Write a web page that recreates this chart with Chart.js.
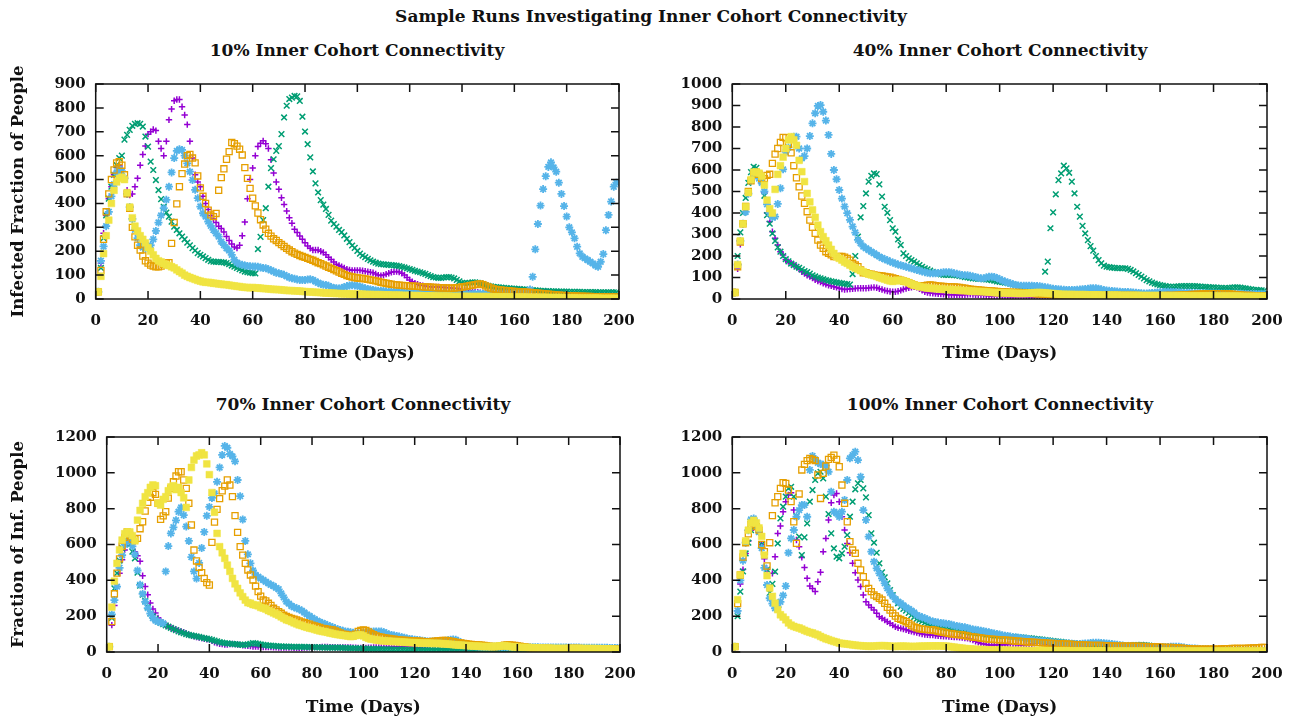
<!DOCTYPE html>
<html><head><meta charset="utf-8">
<script src="https://cdn.jsdelivr.net/npm/chart.js@4.4.1/dist/chart.umd.min.js"></script>
<style>
html,body{margin:0;padding:0;background:#fff;}
#wrap{position:relative;width:1303px;height:719px;overflow:hidden;background:#fff;}
canvas{position:absolute;}
.t{position:absolute;font:bold 17px 'DejaVu Serif',serif;color:#111;white-space:nowrap;transform:translate(-50%,-50%);}
</style></head><body>
<div id="wrap">
<div class="t" style="left:651px;top:16px">Sample Runs Investigating Inner Cohort Connectivity</div>
<div class="t" style="left:357px;top:50px">10% Inner Cohort Connectivity</div>
<div class="t" style="left:1000px;top:50px">40% Inner Cohort Connectivity</div>
<div class="t" style="left:363px;top:404px">70% Inner Cohort Connectivity</div>
<div class="t" style="left:1000px;top:404px">100% Inner Cohort Connectivity</div>
<canvas id="c1" width="650" height="310" style="left:0;top:60px"></canvas>
<canvas id="c2" width="653" height="310" style="left:650px;top:60px"></canvas>
<canvas id="c3" width="650" height="319" style="left:0;top:400px"></canvas>
<canvas id="c4" width="653" height="319" style="left:650px;top:400px"></canvas>
</div>
<script>
// ---------- 10% Inner Cohort Connectivity (values per day, day 0..199) ----------
const p10_purple = [30,30,150,275,350,420,470,520,550,560,
545,500,455,435,440,470,505,560,605,640,
690,700,710,705,660,630,600,660,750,795,
830,835,835,805,770,730,660,590,520,490,
470,430,400,375,350,335,320,305,295,280,
262,245,230,218,213,225,265,322,420,500,
548,600,638,652,662,650,630,583,527,490,
459,424,396,368,340,317,292,278,264,250,
235,222,212,205,205,205,200,195,185,175,
165,155,145,140,135,130,125,122,120,120,
120,120,118,116,114,112,110,105,100,98,
100,104,108,112,114,115,113,108,100,90,
80,72,66,62,58,56,54,52,51,50,
50,50,49,48,48,47,46,45,44,42,
40,38,36,34,32,30,28,26,25,24,
24,25,27,29,31,33,35,37,38,39,
40,40,39,38,37,36,35,34,33,32,
31,30,29,28,27,26,25,24,23,22,
21,20,20,19,19,18,18,17,17,16,
16,15,15,15,14,14,14,13,13,13];
const p10_green = [30,30,130,255,350,420,470,520,560,590,
600,667,687,708,725,733,736,733,722,680,
638,575,540,498,456,418,386,362,345,324,
303,289,275,261,250,236,225,213,203,192,
185,178,171,164,158,156,155,155,154,153,
150,146,140,135,130,125,120,115,112,110,
108,107,209,260,330,380,470,548,585,620,
640,690,760,809,837,843,850,848,829,763,
701,648,593,534,484,446,414,395,377,352,
328,314,303,289,280,266,252,238,224,214,
201,190,182,175,168,162,156,152,148,146,
145,144,143,142,141,140,138,135,132,128,
125,122,118,115,112,108,105,100,96,92,
90,88,88,90,92,92,90,86,80,74,
68,66,66,68,70,70,68,65,62,58,
55,53,51,50,49,48,47,46,45,44,
43,42,41,40,40,39,38,37,36,35,
34,34,33,33,32,32,32,31,31,31,
31,30,30,30,30,30,29,29,29,29,
29,29,28,28,28,28,28,28,28,28];
const p10_blue = [30,30,160,220,305,365,430,480,530,545,
535,505,440,385,335,290,255,225,215,210,
215,225,250,285,320,350,380,415,470,530,
590,620,627,624,600,568,533,498,457,422,
387,359,345,324,306,289,275,261,240,226,
212,203,185,164,152,145,143,140,138,137,
136,136,135,132,130,129,125,120,115,110,
108,105,101,95,90,87,85,82,80,80,
80,82,83,80,73,68,63,60,59,55,
50,46,45,44,46,50,54,57,58,57,
55,52,48,45,42,40,38,36,35,34,
33,32,31,30,30,29,29,28,28,27,
27,27,26,26,26,25,25,25,25,24,
24,24,24,24,23,23,23,23,23,23,
22,22,22,22,22,22,22,22,22,22,
22,22,22,23,23,23,24,24,25,25,
26,26,27,27,28,30,40,93,208,314,
391,460,514,553,572,551,533,487,440,389,
345,300,279,254,219,191,177,170,163,156,
149,140,135,156,188,288,352,408,470,487];
const p10_orange = [30,30,120,250,365,440,500,540,570,575,
560,520,440,380,300,260,225,205,180,160,
150,142,138,135,135,138,145,150,152,233,
320,398,470,525,565,600,605,590,570,515,
465,430,400,372,352,345,358,455,508,545,
585,617,655,650,640,627,603,550,505,463,
422,390,360,332,310,292,275,263,252,245,
236,228,220,212,205,198,192,187,182,178,
174,170,166,162,157,152,148,143,138,133,
128,123,118,113,108,103,98,95,92,90,
88,87,86,84,82,80,78,76,73,70,
68,66,64,62,60,59,58,57,56,56,
55,54,54,53,52,51,50,50,49,48,
48,47,47,46,46,45,45,46,47,48,
50,52,54,56,58,60,62,63,60,55,
50,46,42,40,38,37,36,35,34,33,
32,31,30,30,29,28,27,26,25,24,
23,22,21,20,19,18,17,16,15,15,
14,14,13,13,12,12,12,11,11,11,
10,10,10,10,10,10,9,9,9,9];
const p10_yellow = [30,30,95,190,265,330,400,455,490,505,
510,500,445,385,340,305,285,265,250,235,
215,200,185,170,160,155,148,143,140,135,
130,122,115,108,100,95,90,86,82,78,
75,72,70,70,68,66,65,63,62,60,
60,58,56,55,53,52,50,49,48,47,
48,47,46,45,44,43,42,41,40,40,
39,38,37,36,35,35,34,34,33,32,
31,30,30,29,28,28,27,26,25,25,
24,24,23,23,22,22,22,21,21,20,
20,20,20,19,19,19,18,18,18,18,
17,17,17,16,16,16,16,15,15,15,
15,14,14,14,14,13,13,13,13,13,
12,12,12,12,12,12,11,11,11,11,
11,11,11,10,10,10,10,10,10,10,
10,9,9,9,9,9,9,9,9,8,
8,8,8,8,8,8,7,7,7,7,
7,7,7,6,6,6,6,6,6,5,
5,5,5,5,5,4,4,4,4,4,
4,4,4,3,3,3,3,3,3,3];

// ---------- 40% Inner Cohort Connectivity ----------
const p40_purple = [30,30,140,255,350,430,490,555,580,590,
570,540,494,400,360,313,282,251,220,205,
182,174,166,160,150,140,127,118,110,104,
97,89,84,79,73,68,64,61,57,54,
50,46,44,45,46,48,49,50,50,50,
50,51,53,54,52,48,44,40,37,35,
34,34,36,40,45,49,52,55,57,54,
48,40,33,30,28,27,25,24,23,22,
21,20,20,20,19,19,19,20,21,22,
21,20,19,18,17,16,15,14,14,13,
13,12,12,12,11,11,11,11,11,10,
10,10,10,9,9,9,9,8,8,8,
8,7,7,7,6,6,6,5,5,5,
5,4,4,3,3,3];
const p40_green = [30,30,200,310,400,470,540,590,615,610,
580,545,480,390,350,305,270,240,220,200,
185,175,165,158,150,145,138,130,125,118,
110,105,100,96,92,88,85,82,80,77,
75,73,71,69,67,116,200,290,380,432,
491,546,573,584,581,533,476,429,401,367,
329,313,277,251,212,200,189,181,174,166,
158,150,143,138,132,126,122,118,115,112,
112,112,112,111,110,108,105,102,100,98,
96,95,94,93,92,91,90,88,85,82,
80,78,76,74,71,68,65,62,59,56,
53,50,48,46,45,44,44,127,174,329,
403,487,553,584,620,608,587,546,491,429,
383,340,305,274,246,225,200,181,166,155,
150,148,146,145,144,143,143,143,140,135,
128,120,112,104,96,88,82,76,72,68,
65,62,60,58,57,57,58,59,60,60,
60,60,60,60,59,58,57,56,55,54,
54,53,52,52,51,51,52,53,54,54,
53,51,49,47,45,43,42,41,40,39];
const p40_blue = [30,30,160,270,350,405,490,550,580,580,
560,540,500,440,400,380,383,442,515,603,
685,705,743,755,755,700,654,665,700,758,
817,864,898,902,871,830,763,675,600,557,
507,467,430,399,368,337,309,275,259,244,
236,228,220,213,205,197,191,185,180,174,
170,165,160,157,154,150,146,143,139,135,
132,128,125,122,120,120,120,121,122,124,
125,125,123,120,117,114,112,111,110,108,
105,102,99,96,96,100,104,104,102,98,
92,86,81,77,73,69,65,63,62,62,
62,62,62,61,60,59,57,55,53,50,
48,46,45,44,43,42,42,42,42,43,
44,45,46,48,50,50,50,48,45,42,
39,38,37,36,35,34,33,33,32,31,
30,29,28,27,26,26,27,28,29,30,
31,32,33,34,34,33,32,31,30,29,
29,29,28,28,27,27,27,26,26,26,
26,26,26,25,25,25,25,24,24,24,
24,23,23,23,23,23,23,22,22,22];
const p40_orange = [30,30,150,265,350,430,500,550,580,590,
580,560,560,575,580,631,674,700,728,752,
750,720,680,620,564,522,479,445,406,367,
333,305,274,251,236,220,212,205,197,197,
198,198,195,189,181,166,158,150,135,122,
122,118,115,112,110,108,107,105,103,101,
98,95,91,88,84,81,76,70,65,62,
60,60,62,64,65,64,62,60,59,58,
57,57,56,56,55,54,52,50,48,46,
44,43,42,41,40,39,38,37,36,35,
34,33,33,32,32,31,30,30,29,29,
28,27,26,25,24,24,23,23,22,21,
20,20,20,19,19,19,19,18,18,18,
18,18,18,18,18,18,17,17,17,17,
17,17,17,17,17,17,17,16,16,16,
16,16,15,15,15,15,15,15,15,15,
15,15,16,16,17,17,18,18,19,19,
20,20,21,21,22,22,23,23,24,24,
25,25,25,25,24,24,23,22,21,20,
19,18,17,16,16,15,15,15,14,14];
const p40_yellow = [30,30,160,270,350,430,495,555,590,590,
585,570,530,460,420,400,510,580,620,660,
700,740,755,740,715,645,592,546,491,452,
414,380,344,313,290,271,251,231,212,197,
189,181,172,166,158,150,144,138,132,127,
120,116,112,109,105,100,96,92,88,84,
82,84,88,86,84,81,76,70,65,62,
58,55,53,51,50,49,48,47,46,45,
45,44,43,42,41,40,39,39,38,37,
36,35,35,34,34,33,32,31,30,29,
29,28,28,27,27,27,26,26,26,26,
26,27,28,29,30,30,29,28,27,26,
25,24,23,22,22,21,21,21,20,20,
20,20,20,19,19,19,19,19,18,18,
18,18,18,18,18,17,17,17,17,17,
17,17,17,16,16,16,16,16,16,16,
16,16,15,15,15,15,15,15,15,15,
15,14,14,14,14,14,14,14,14,14,
14,13,13,13,13,13,13,13,13,13,
13,12,12,12,12,12,12,12,12,12];

// ---------- 70% Inner Cohort Connectivity ----------
const p70_purple = [30,30,150,260,365,440,515,570,610,620,
600,560,537,506,426,366,320,273,240,218,
190,176,162,152,143,137,130,125,120,115,
110,104,97,92,88,84,81,78,74,71,
69,62,54,50,46,44,41,42,44,45,
44,42,40,38,36,35,33,31,30,30,
29,28,28,27,27,26,26,25,25,25,
25,25,25,24,24,24,24,25,25,26,
26,27,27,27,28,28,28,27,27,26,
26,26,26,26,25,25,24,24,23,23,
23,23,24,24,25,25,26,26,27,27,
28,28,29,29,30,30,31,30,29,27,
25,24,22,21,20,19,18,17,16,16,
15,15,14,14,14,13,13,13,12,12,
12,12,11,11,11,11,10,10,10,10,
10,10,9,9,9,9,9,9,8,8,
8,8,8,8,7,7,7,7,7,7,
6,6,6,6,6,6,6,5,5,5,
5,5,5,5,5,5,5,4,4,4,
4,4,4,4,4,4,4,4,4,4];
const p70_green = [30,30,190,355,440,510,580,610,620,600,
560,523,443,370,320,285,250,215,200,185,
170,162,155,148,142,135,128,122,115,110,
105,100,96,93,90,87,84,81,78,75,
72,68,64,60,55,52,50,48,46,45,
44,42,41,40,40,42,46,50,48,45,
42,40,38,36,35,34,33,32,31,30,
30,30,29,29,28,28,28,28,27,27,
27,27,26,26,26,25,25,25,25,25,
24,24,23,23,22,22,21,21,20,20,
19,19,18,18,17,17,16,16,15,15,
15,14,14,14,13,13,13,12,12,12,
11,11,11,11,10,10,10,10,10,10,
10,10,10,9,9,9,9,9,9,9,
8,8,8,8,8,8,7,7,7,7,
7,7,6,6,6,6,6,6,6,5,
5,5,5,5,5,5,5,5,4,4,
4,4,4,4,4,4,4,4,4,3,
3,3,3,3,3,3,3,3,3,3,
3,3,3,3,3,3,3,3,3,3];
const p70_blue = [30,30,210,290,365,470,540,600,620,625,
590,545,455,375,325,280,245,215,190,175,
170,165,160,450,591,662,696,735,783,807,
764,700,620,530,450,410,497,580,670,760,
810,860,885,950,1030,1100,1150,1140,1105,1092,
1064,960,870,740,620,545,495,455,430,420,
410,402,392,383,375,368,358,350,327,305,
281,270,257,250,244,238,231,220,210,201,
192,183,175,168,162,156,150,144,138,132,
127,123,118,115,113,110,107,104,104,105,
108,110,112,113,114,115,115,114,110,104,
98,95,92,89,86,83,80,76,73,71,
69,67,65,63,61,59,58,58,58,59,
60,62,63,65,68,70,68,60,52,46,
39,36,34,33,32,31,30,30,30,30,
30,29,29,29,28,28,28,28,27,27,
27,27,27,26,26,26,26,26,26,25,
25,25,25,25,25,25,25,25,25,25,
25,25,25,25,25,24,24,24,24,24,
24,24,24,24,24,24,23,23,23,23];
const p70_orange = [30,30,170,325,440,520,590,640,670,650,
630,631,634,688,727,787,835,863,889,880,
830,740,760,783,859,913,950,982,1006,1006,
960,913,830,709,569,508,472,443,411,387,
374,612,725,796,856,900,926,960,932,867,
761,668,588,541,495,458,430,402,368,337,
312,290,285,272,260,244,235,225,216,205,
198,193,188,183,179,174,168,163,160,155,
150,145,141,137,132,130,127,125,123,118,
112,106,100,98,95,92,90,100,115,120,
123,120,112,104,96,90,86,83,80,77,
75,73,71,69,67,66,65,64,63,62,
62,61,60,59,58,58,58,59,61,62,
63,64,64,63,61,58,55,52,50,48,
46,44,42,41,40,39,38,36,34,32,
31,30,30,32,35,38,40,39,38,36,
34,32,30,28,26,24,22,21,20,20,
20,20,20,19,19,19,19,19,19,19,
20,20,20,20,20,19,19,18,18,17,
16,16,15,15,15,15,15,15,15,15];
const p70_yellow = [30,30,250,395,495,570,625,660,670,670,
650,620,736,790,830,867,889,919,932,928,
830,820,852,867,900,921,928,906,919,890,
861,807,960,1030,1071,1094,1100,1112,1100,1050,
990,890,780,662,588,554,523,485,450,411,
380,355,330,309,290,275,272,265,262,258,
249,245,240,231,225,218,212,205,196,188,
180,175,169,163,157,151,147,142,138,134,
130,126,122,118,115,113,110,106,103,100,
97,95,93,91,89,86,88,92,95,95,
90,82,76,72,70,67,65,63,62,61,
60,59,58,58,57,56,55,54,53,52,
52,51,51,50,50,49,49,48,48,48,
47,46,45,44,43,41,40,39,38,37,
36,35,34,33,33,32,31,30,30,30,
30,31,32,33,34,35,33,31,29,28,
27,26,26,25,25,24,24,23,23,22,
22,21,21,21,20,20,20,20,20,20,
20,20,20,20,20,20,19,19,19,19,
19,18,18,18,17,17,16,16,15,15];

// ---------- 100% Inner Cohort Connectivity ----------
const p100_purple = [30,30,230,380,460,550,620,680,700,690,
670,600,520,460,350,439,532,662,703,783,
839,876,889,792,625,588,528,472,411,368,
355,337,392,445,560,634,737,833,876,885,
839,755,681,606,554,495,443,402,365,318,
281,262,249,234,216,197,188,179,169,160,
150,141,135,132,128,124,119,115,112,108,
104,100,98,96,95,94,92,90,89,88,
87,86,85,84,83,82,80,78,76,72,
67,60,54,48,45,42,39,39,39,40,
40,41,41,42,43,43,42,41,40,39,
40,42,45,48,51,52,50,45,40,37,
35,33,32,31,30,30,29,28,28,27,
27,26,26,25,25,24,24,23,23,22,
22,21,21,21,20,20,20,20,20,20,
20,20,20,19,19,19,19,19,18,18,
17,17,16,16,15,15,14,14,13,13,
12,12,11,11,12,12,13,13,14,14,
15,15,15,14,14,13,13,12,12,11,
11,10,10,9,9,8,8,8,7,7];
const p100_green = [30,30,200,337,450,550,610,680,720,700,
670,600,540,460,330,380,448,606,746,811,
867,913,922,867,759,644,541,640,718,839,
904,960,997,1006,969,867,770,662,578,532,
523,551,588,653,755,839,908,941,960,913,
863,764,662,610,554,495,445,417,383,346,
318,294,272,253,240,231,218,206,195,185,
179,172,164,158,151,148,145,141,138,135,
132,130,128,126,124,120,115,113,110,108,
106,105,104,102,100,97,95,93,91,90,
89,89,88,87,86,85,84,83,82,80,
78,77,76,74,72,71,69,67,65,63,
61,59,58,56,54,52,50,49,48,47,
46,45,45,44,43,43,42,41,40,39,
39,38,38,38,37,37,37,37,37,38,
38,39,39,40,39,37,35,33,32,31,
30,29,28,27,26,25,24,23,22,21,
20,20,19,18,17,17,16,16,15,15,
14,14,13,13,12,12,12,11,11,11,
10,10,9,9,9,8,8,8,7,7];
const p100_blue = [30,30,230,400,510,610,680,740,745,700,
670,580,470,374,300,270,244,250,280,316,
368,554,634,681,755,792,820,820,755,1016,
1094,1075,1056,1049,1045,1040,1006,895,783,774,
755,783,848,960,1081,1099,1118,1071,978,792,
737,644,560,504,467,439,411,383,355,331,
312,294,281,272,260,249,240,231,220,206,
200,194,188,182,175,170,167,164,162,160,
158,156,152,148,145,143,140,138,134,130,
126,124,122,119,116,113,110,106,103,100,
97,94,91,89,86,83,82,80,78,76,
74,72,67,65,64,63,62,60,58,56,
54,52,50,49,48,48,47,46,45,45,
45,46,47,48,50,52,52,51,50,49,
48,46,44,42,40,38,36,34,33,32,
31,30,30,30,29,29,28,28,27,27,
26,26,27,28,29,30,30,29,27,25,
23,21,20,19,18,17,16,15,15,14,
13,13,12,12,11,11,11,10,10,10,
10,9,9,9,8,8,8,7,7,7];
const p100_orange = [30,30,270,430,530,610,660,710,720,700,
680,600,560,480,610,761,833,867,913,945,
941,904,839,727,606,882,1016,1047,1068,1081,
1075,1068,988,857,997,1038,1075,1086,1099,1075,
1034,932,830,727,616,569,551,495,458,420,
383,355,337,318,309,300,290,272,249,234,
216,201,188,182,175,169,160,150,140,135,
130,128,126,125,124,123,120,116,113,110,
107,104,102,100,98,97,95,92,89,86,
84,82,80,78,76,74,72,71,70,69,
68,67,66,65,64,63,61,60,59,58,
57,56,55,54,53,52,51,50,49,48,
48,47,46,45,45,44,43,42,41,40,
39,39,38,38,37,37,37,36,36,35,
35,34,34,33,33,33,33,33,33,32,
32,32,31,31,31,30,30,29,29,28,
27,27,26,26,25,24,23,22,21,20,
19,18,17,16,15,15,15,15,15,15,
15,15,16,17,18,19,19,20,20,20,
20,20,20,21,21,22,23,24,25,26];
const p100_yellow = [30,30,292,431,550,620,680,720,735,720,
692,645,541,426,357,311,273,236,208,195,
180,162,150,143,138,134,128,121,115,110,
106,100,95,87,80,74,69,64,59,55,
50,48,46,44,42,40,38,36,35,34,
33,32,32,33,34,35,35,35,34,33,
31,31,32,32,32,32,31,31,31,31,
32,32,33,33,34,34,34,34,34,33,
33,31,29,27,25,23,21,19,18,17,
16,15,14,14,13,12,12,11,11,11,
10,10,10,10,9,9,9,9,9,9,
8,8,8,8,8,8,8,8,7,7,
7,7,7,7,7,7,7,6,6,6,
6,6,6,6,6,6,6,6,6,6,
5,5,5,5,5,5,5,5,5,5,
5,5,5,5,5,5,5,5,5,5,
5,5,5,5,5,5,5,5,5,5,
5,5,5,5,5,5,5,5,5,5,
5,5,5,5,5,5,5,5,5,5,
5,5,5,5,5,5,5,5,5,5];

const xTicks = {min:0, max:200, step:20};

const TICKFONT = {family:"'DejaVu Serif', serif", size:15, weight:'bold'};
const XTITLEFONT = {family:"'DejaVu Serif', serif", size:17, weight:'bold'};
const YTITLEFONT = {family:"'DejaVu Serif', serif", size:16.5, weight:'bold'};
const INK = '#111';

const frame = {
  id:'frame',
  afterDatasetsDraw(chart){
    const {ctx, chartArea:a, scales:{x,y}} = chart;
    ctx.save();
    ctx.strokeStyle = INK; ctx.lineWidth = 1.5;
    ctx.strokeRect(a.left, a.top, a.right-a.left, a.bottom-a.top);
    ctx.beginPath();
    const L = 8;
    x.ticks.forEach(t=>{const p=x.getPixelForValue(t.value);
      ctx.moveTo(p,a.bottom); ctx.lineTo(p,a.bottom-L);
      ctx.moveTo(p,a.top); ctx.lineTo(p,a.top+L);});
    y.ticks.forEach(t=>{const p=y.getPixelForValue(t.value);
      ctx.moveTo(a.left,p); ctx.lineTo(a.left+L,p);
      ctx.moveTo(a.right,p); ctx.lineTo(a.right-L,p);});
    ctx.stroke();
    ctx.restore();
  }
};

function pts(arr){ return arr.map((v,i)=>({x:i, y:v})); }
const plain = v => String(v);

function makeChart(id, series, yMax, yStep, yTitle, g){
  const [purple, green, blue, orange, yellow] = series;
  const datasets = [
    {data:pts(yellow), pointStyle:'rect', pointRadius:4.8, pointBackgroundColor:'#f0e442', pointBorderColor:'#f0e442', pointBorderWidth:0.5},
    {data:pts(orange), pointStyle:'rect', pointRadius:4.3, pointBackgroundColor:'rgba(0,0,0,0)', pointBorderColor:'#e69f00', pointBorderWidth:1.3},
    {data:pts(blue), pointStyle:'star', pointRadius:4, pointBackgroundColor:'#56b4e9', pointBorderColor:'#56b4e9', pointBorderWidth:1.8},
    {data:pts(green), pointStyle:'crossRot', pointRadius:4, pointBorderColor:'#009e73', pointBorderWidth:1.5},
    {data:pts(purple), pointStyle:'cross', pointRadius:3.2, pointBorderColor:'#9400d3', pointBorderWidth:1.5},
  ].map(d=>Object.assign({showLine:false, pointHoverRadius:0}, d));
  new Chart(document.getElementById(id), {
    type:'scatter',
    data:{datasets},
    options:{
      responsive:false, animation:false, devicePixelRatio:1, events:[],
      layout:{padding:{left:0, top:g.top, right:g.right, bottom:0}},
      plugins:{legend:{display:false}, tooltip:{enabled:false}, title:{display:false}},
      scales:{
        x:{type:'linear', min:xTicks.min, max:xTicks.max,
           ticks:{stepSize:xTicks.step, font:TICKFONT, color:INK, padding:13, maxRotation:0, autoSkip:false, callback:plain},
           grid:{display:false, drawTicks:false}, border:{display:false},
           title:{display:true, text:'Time (Days)', font:XTITLEFONT, color:INK, padding:{top:0, bottom:g.xtb}},
           afterFit:s=>{ s.height = g.xh; }},
        y:{type:'linear', min:0, max:yMax,
           ticks:{stepSize:yStep, font:TICKFONT, color:INK, padding:10, autoSkip:false, callback:plain},
           grid:{display:false, drawTicks:false}, border:{display:false},
           title:{display:!!yTitle, text:yTitle||'', font:YTITLEFONT, color:INK, padding:{top:9, bottom:0}},
           afterFit:s=>{ s.width = g.yw; }}
      }
    },
    plugins:[frame]
  });
}

makeChart('c1', [p10_purple,p10_green,p10_blue,p10_orange,p10_yellow], 900, 100, 'Infected Fraction of People', {top:24, right:31, yw:95.7, xh:71, xtb:6});
makeChart('c2', [p40_purple,p40_green,p40_blue,p40_orange,p40_yellow], 1000, 100, '', {top:24, right:36, yw:82.3, xh:71, xtb:6});
makeChart('c3', [p70_purple,p70_green,p70_blue,p70_orange,p70_yellow], 1200, 200, 'Fraction of Inf. People', {top:37, right:30, yw:106.7, xh:67, xtb:1.5});
makeChart('c4', [p100_purple,p100_green,p100_blue,p100_orange,p100_yellow], 1200, 200, '', {top:37, right:36, yw:82.3, xh:67, xtb:1.5});
</script>
</body></html>
